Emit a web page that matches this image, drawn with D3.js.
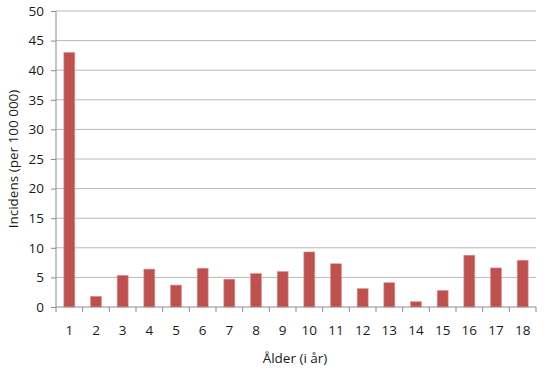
<!DOCTYPE html>
<html>
<head>
<meta charset="utf-8">
<script src="https://cdn.jsdelivr.net/npm/d3@7"></script>
<style>
  body { margin: 0; background: #fff; }
  text { font-family: "Open Sans", "Liberation Sans", sans-serif; fill: #1a1a1a; }
</style>
</head>
<body>
<svg width="549" height="370"></svg>
<script>
// data
var ages = ["1","2","3","4","5","6","7","8","9","10","11","12","13","14","15","16","17","18"]
var incidence = [43.0, 1.8, 5.35, 6.4, 3.7, 6.55, 4.7, 5.65, 6.0, 9.3, 7.3, 3.1, 4.1, 0.9, 2.8, 8.75, 6.6, 7.9]
var yTicks = [0, 5, 10, 15, 20, 25, 30, 35, 40, 45, 50]

var svg = d3.select("svg")
var plotLeft = 56, plotRight = 536, plotTop = 11, plotBottom = 307

var x = d3.scaleBand()
    .domain(ages)
    .range([plotLeft, plotRight])
    .paddingInner(0.59)
    .paddingOuter(0.295)

var y = d3.scaleLinear()
    .domain([0, 50])
    .range([plotBottom, plotTop])

// gridlines
svg.append("g")
    .selectAll("line")
    .data(yTicks.filter(d => d > 0))
    .enter().append("line")
    .attr("x1", plotLeft).attr("x2", plotRight)
    .attr("y1", d => y(d)).attr("y2", d => y(d))
    .style("stroke", "#b7b7b7")
    .style("stroke-width", 1)

// bars
svg.append("g")
    .selectAll("rect")
    .data(incidence)
    .enter().append("rect")
    .attr("x", (d, i) => x(ages[i]))
    .attr("width", x.bandwidth())
    .attr("y", d => y(d))
    .attr("height", d => y(0) - y(d))
    .style("fill", "#c0504d")
    .style("stroke", "#d99694")
    .style("stroke-width", 0.6)

// y axis
var yAxis = svg.append("g")
    .attr("transform", "translate(" + plotLeft + ",0)")
    .call(d3.axisLeft(y).tickValues(yTicks).tickSize(5).tickPadding(7))
yAxis.select(".domain").attr("d", "M0," + plotTop + "V" + plotBottom).style("stroke", "#8c8c8c")
yAxis.selectAll(".tick line").style("stroke", "#8c8c8c")
yAxis.selectAll("text").style("font-size", "13.5px")

// x axis, ticks on the band edges
var xAxis = svg.append("g")
    .attr("transform", "translate(0," + plotBottom + ")")
    .call(d3.axisBottom(x).tickSize(0).tickPadding(18))
xAxis.select(".domain").attr("d", "M" + plotLeft + ",0H" + plotRight).style("stroke", "#8c8c8c")
xAxis.selectAll("text").style("font-size", "13.5px")
xAxis.selectAll(".edge")
    .data(d3.range(ages.length + 1))
    .enter().append("line")
    .attr("class", "edge")
    .attr("x1", i => plotLeft + i * x.step()).attr("x2", i => plotLeft + i * x.step())
    .attr("y1", 0).attr("y2", 5)
    .style("stroke", "#8c8c8c")

// titles
svg.append("text")
    .attr("x", 295)
    .attr("y", 363)
    .attr("text-anchor", "middle")
    .style("font-size", "13.5px")
    .text("Ålder (i år)")

svg.append("text")
    .attr("transform", "translate(18," + (plotTop + plotBottom) / 2 + ") rotate(-90)")
    .attr("text-anchor", "middle")
    .style("font-size", "13.5px")
    .text("Incidens (per 100 000)")
</script>
</body>
</html>
